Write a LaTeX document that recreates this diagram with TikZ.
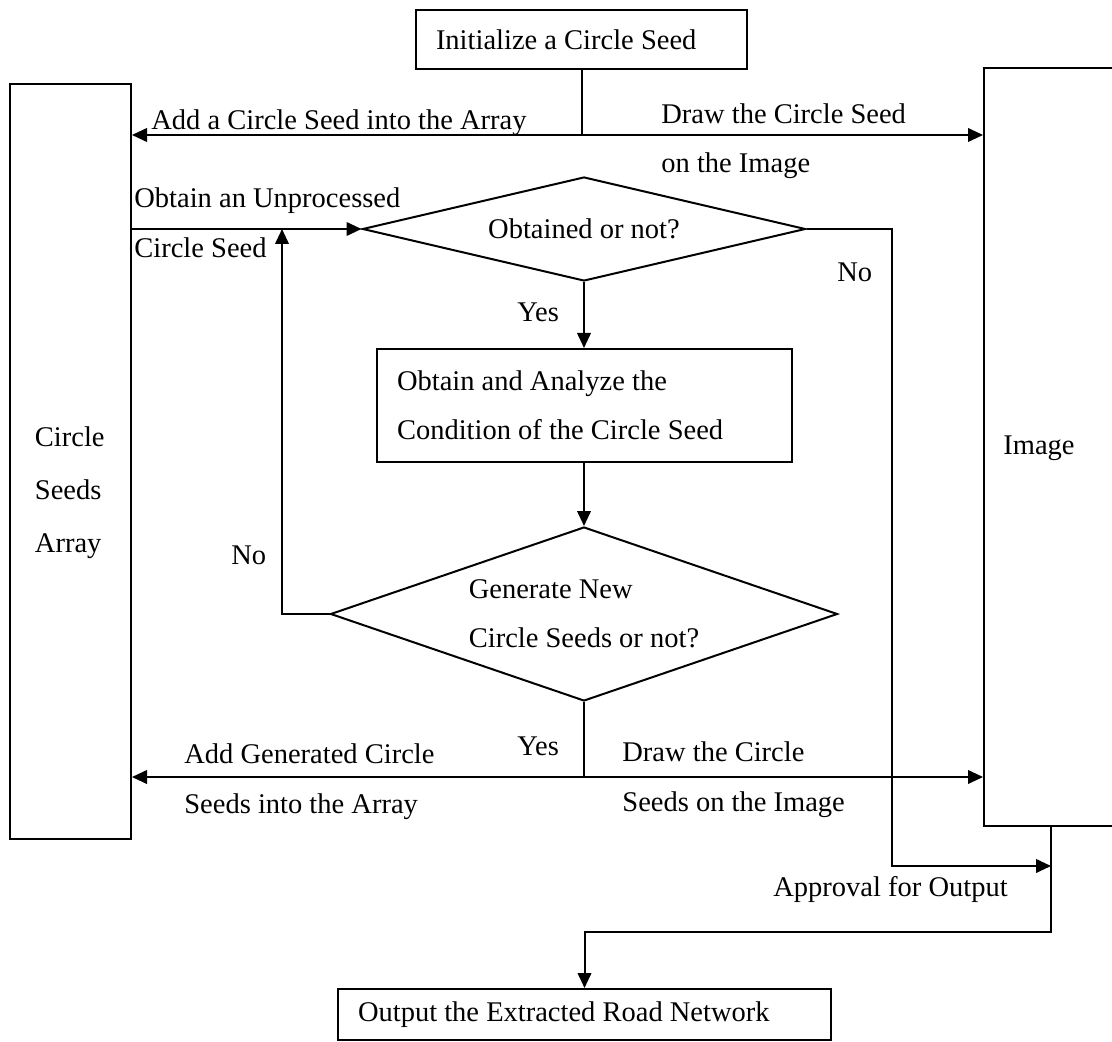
\documentclass[tikz,border=0pt]{standalone}
\usepackage{fontspec}
\setmainfont{Liberation Serif}
\usetikzlibrary{arrows.meta,shapes.geometric}
\begin{document}
\begin{tikzpicture}[x=0.5pt,y=-0.5pt,
  every node/.style={font=\fontsize{14.25pt}{24.5pt}\selectfont},
  box/.style={draw,line width=1pt,rectangle,inner sep=0pt,align=flush left},
  dec/.style={draw,line width=1pt,diamond,inner sep=0pt,align=flush left},
  lbl/.style={anchor=base west,inner sep=0pt},
  line/.style={line width=1pt},
  arr/.style={line width=1pt,-{Triangle[length=7.5pt,width=6.8pt]}},
]
\fill[white] (0,0) rectangle (1112,1042);
\useasboundingbox (0,0) rectangle (1112,1042);

% process boxes
\node[box,minimum width=165.5pt,minimum height=29.5pt,text width=145.5pt,inner xsep=10pt]
  (init) at (581.5,39.5) {Initialize a Circle Seed};
\node[box,minimum width=60.5pt,minimum height=377.5pt] (seeds) at (70.5,461.5) {};
\node[inner sep=0pt,align=flush left,font=\fontsize{14.25pt}{26.5pt}\selectfont]
  (seedstxt) at (69.8,493) {Circle\\Seeds\\Array};
\node[box,minimum width=73pt,minimum height=379pt] (img) at (1057,447) {};
\node[lbl] (imgtxt) at (1003,454) {Image};
\node[box,minimum width=207.5pt,minimum height=56.5pt,text width=187pt,inner xsep=10.25pt]
  (cond) at (584,405.5) {Obtain and Analyze the\\Condition of the Circle Seed};
\node[box,minimum width=246.5pt,minimum height=25.5pt,text width=226.5pt,inner xsep=10pt]
  (out) at (584.5,1014.5) {Output the Extracted Road Network};

% decisions
\node[dec,minimum width=221.5pt,minimum height=52pt,shape aspect=4.26]
  (obt) at (584,229) {Obtained or not?};
\node[dec,minimum width=253.5pt,minimum height=87pt,shape aspect=2.91]
  (gen) at (584,614) {Generate New\\Circle Seeds or not?};

% junction points
\coordinate (j1) at (581.5,135);
\coordinate (j2) at (584,777);
\coordinate (back) at (282,229);
\coordinate (nobend) at (892,866);
\coordinate (approve) at (1051,866);
\coordinate (j3) at (1051,932);

% connectors
\draw[line] (init.south) -- (j1);
\draw[arr] (j1) -- (j1 -| seeds.east);
\draw[arr] (j1) -- (j1 -| img.west);
\draw[arr] (seeds.east |- obt.west) -- (obt.west);
\draw[arr] (obt.south) -- (cond.north);
\draw[arr] (cond.south) -- (gen.north);
\draw[arr] (gen.west) -| (back);
\draw[arr] (obt.east) -- (obt.east -| nobend) -- (nobend) -- (approve);
\draw[line] (gen.south) -- (j2);
\draw[arr] (j2) -- (j2 -| seeds.east);
\draw[arr] (j2) -- (j2 -| img.west);
\draw[arr] (img.south -| j3) -- (j3) -| (out.north);

% connector labels
\node[lbl] (t1) at (151,130) {Add a Circle Seed into the Array};
\node[lbl] (t2) at (661,124) {Draw the Circle Seed};
\node[lbl] (t3) at (661,173) {on the Image};
\node[lbl] (t4) at (134,208) {Obtain an Unprocessed};
\node[lbl] (t5) at (134,258) {Circle Seed};
\node[lbl] (t6) at (837,281.5) {No};
\node[lbl] (t7) at (517,321.5) {Yes};
\node[lbl] (t8) at (231,564) {No};
\node[lbl] (t9) at (517,755) {Yes};
\node[lbl] (t10) at (184,763.5) {Add Generated Circle};
\node[lbl] (t11) at (184,813) {Seeds into the Array};
\node[lbl] (t12) at (622,761.5) {Draw the Circle};
\node[lbl] (t13) at (622,811.5) {Seeds on the Image};
\node[lbl] (t14) at (773,896.5) {Approval for Output};
\end{tikzpicture}
\end{document}
